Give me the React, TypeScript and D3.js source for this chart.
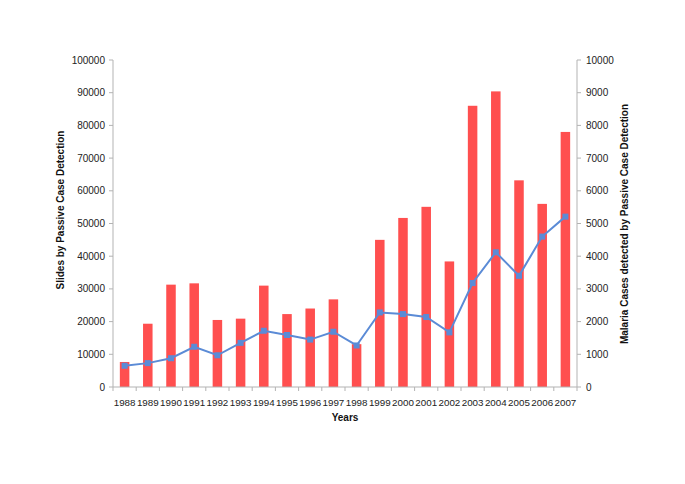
import { useEffect, useRef } from "react";
import * as d3 from "d3";

const WIDTH = 685;
const HEIGHT = 484;

const years = [
  "1988", "1989", "1990", "1991", "1992", "1993", "1994", "1995", "1996", "1997",
  "1998", "1999", "2000", "2001", "2002", "2003", "2004", "2005", "2006", "2007",
];

// slides examined (left axis)
const slides = [
  7650, 19350, 31300, 31700, 20500, 20900, 31000, 22300, 24000, 26800,
  13100, 45000, 51700, 55100, 38400, 86000, 90400, 63200, 56000, 78000,
];

// malaria cases detected (right axis)
const cases = [
  650, 730, 880, 1230, 970, 1350, 1720, 1590, 1450, 1690,
  1270, 2280, 2230, 2140, 1670, 3180, 4120, 3400, 4600, 5210,
];

const leftTicks = d3.range(0, 100001, 10000);
const rightTicks = d3.range(0, 10001, 1000);

const FONT = "'Liberation Sans', Arial, Helvetica, sans-serif";
const AXIS_COLOR = "#b3b3b3";
const BAR_COLOR = "#ff4f4f";
const LINE_COLOR = "#5b8bd6";

export default function App() {
  const svgRef = useRef<SVGSVGElement>(null);

  useEffect(() => {
    const svgEl = svgRef.current;
    if (!svgEl) return;

    const margin = { left: 113, right: WIDTH - 577, top: 60, bottom: HEIGHT - 387 };
    const innerW = WIDTH - margin.left - margin.right;
    const innerH = HEIGHT - margin.top - margin.bottom;

    const svg = d3.select(svgEl);
    svg.selectAll("*").remove();

    const x = d3.scaleBand<string>().domain(years).range([0, innerW]).paddingInner(0.59).paddingOuter(0.295);
    const band = d3.scaleBand<string>().domain(years).range([0, innerW]);
    const yL = d3.scaleLinear().domain([0, 100000]).range([innerH, 0]);
    const yR = d3.scaleLinear().domain([0, 10000]).range([innerH, 0]);

    const g = svg.append("g").attr("transform", `translate(${margin.left},${margin.top})`);

    // bars
    g.append("g")
      .selectAll("rect")
      .data(slides)
      .join("rect")
      .attr("x", (_, i) => x(years[i]) ?? 0)
      .attr("y", (d) => yL(d))
      .attr("width", x.bandwidth())
      .attr("height", (d) => innerH - yL(d))
      .attr("fill", BAR_COLOR);

    // left axis
    const left = g.append("g");
    left.append("line").attr("x1", 0).attr("x2", 0).attr("y1", 0).attr("y2", innerH).attr("stroke", AXIS_COLOR);
    left
      .selectAll("g.tick")
      .data(leftTicks)
      .join("g")
      .attr("class", "tick")
      .attr("transform", (d) => `translate(0,${yL(d)})`)
      .each(function (d) {
        const t = d3.select(this);
        t.append("line").attr("x1", -4).attr("x2", 0).attr("stroke", AXIS_COLOR);
        t.append("text")
          .attr("x", -8)
          .attr("dy", "0.35em")
          .attr("text-anchor", "end")
          .attr("font-size", 10)
          .attr("fill", "#222")
          .text(String(d));
      });

    // right axis
    const right = g.append("g").attr("transform", `translate(${innerW},0)`);
    right.append("line").attr("x1", 0).attr("x2", 0).attr("y1", 0).attr("y2", innerH).attr("stroke", AXIS_COLOR);
    right
      .selectAll("g.tick")
      .data(rightTicks)
      .join("g")
      .attr("class", "tick")
      .attr("transform", (d) => `translate(0,${yR(d)})`)
      .each(function (d) {
        const t = d3.select(this);
        t.append("line").attr("x1", 0).attr("x2", 4).attr("stroke", AXIS_COLOR);
        t.append("text")
          .attr("x", 9)
          .attr("dy", "0.35em")
          .attr("text-anchor", "start")
          .attr("font-size", 10)
          .attr("fill", "#222")
          .text(String(d));
      });

    // x axis
    const bottom = g.append("g").attr("transform", `translate(0,${innerH})`);
    bottom.append("line").attr("x1", 0).attr("x2", innerW).attr("stroke", AXIS_COLOR);
    const edges = [...years.map((yr) => band(yr) ?? 0), innerW];
    bottom
      .selectAll("line.tick")
      .data(edges)
      .join("line")
      .attr("class", "tick")
      .attr("x1", (d) => d)
      .attr("x2", (d) => d)
      .attr("y1", 0)
      .attr("y2", 4)
      .attr("stroke", AXIS_COLOR);
    bottom
      .selectAll("text")
      .data(years)
      .join("text")
      .attr("x", (d) => (band(d) ?? 0) + band.bandwidth() / 2)
      .attr("y", 19)
      .attr("text-anchor", "middle")
      .attr("font-size", 9.8)
      .attr("fill", "#222")
      .text((d) => d);

    // line series
    const line = d3
      .line<number>()
      .x((_, i) => (x(years[i]) ?? 0) + x.bandwidth() / 2)
      .y((d) => yR(d));
    g.append("path")
      .datum(cases)
      .attr("d", line)
      .attr("fill", "none")
      .attr("stroke", LINE_COLOR)
      .attr("stroke-width", 2);
    g.append("g")
      .selectAll("rect")
      .data(cases)
      .join("rect")
      .attr("x", (_, i) => (x(years[i]) ?? 0) + x.bandwidth() / 2 - 3)
      .attr("y", (d) => yR(d) - 3)
      .attr("width", 6)
      .attr("height", 6)
      .attr("fill", LINE_COLOR);

    // titles
    svg.append("text")
      .attr("transform", `translate(64,210) rotate(-90)`)
      .attr("text-anchor", "middle")
      .attr("font-size", 10)
      .attr("font-weight", "bold")
      .attr("fill", "#111")
      .text("Slides by Passive Case Detection");
    svg.append("text")
      .attr("transform", `translate(628,224) rotate(-90)`)
      .attr("text-anchor", "middle")
      .attr("font-size", 10)
      .attr("font-weight", "bold")
      .attr("fill", "#111")
      .text("Malaria Cases detected by Passive Case Detection");
    svg.append("text")
      .attr("x", margin.left + innerW / 2)
      .attr("y", 421)
      .attr("text-anchor", "middle")
      .attr("font-size", 10)
      .attr("font-weight", "bold")
      .attr("fill", "#111")
      .text("Years");
  }, []);

  return (
    <svg
      ref={svgRef}
      width={WIDTH}
      height={HEIGHT}
      style={{ display: "block", position: "absolute", left: 0, top: 0, fontFamily: FONT, background: "#fff" }}
    />
  );
}
